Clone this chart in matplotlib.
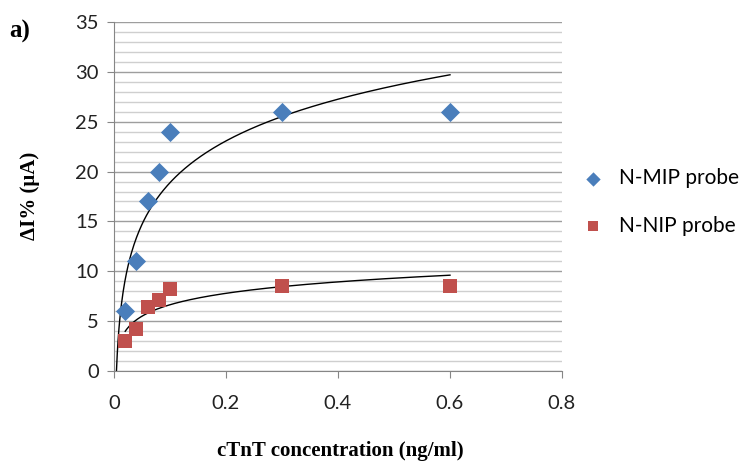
import numpy as np
import matplotlib

matplotlib.use("Agg")
import matplotlib.pyplot as plt
from matplotlib.ticker import MultipleLocator

# cTnT concentration (ng/ml)
conc = [0.02, 0.04, 0.06, 0.08, 0.1, 0.3, 0.6]
mip = [6, 11, 17, 20, 24, 26, 26]
nip = [3, 4.2, 6.4, 7.1, 8.2, 8.5, 8.5]

BLUE = "#4a7ebb"
RED = "#c0504d"
TICK_FONT = "Lato"
LABEL_FONT = "Liberation Serif"


def log_fit(x, y):
    a, b = np.polyfit(np.log(x), y, 1)
    return a, b


fig = plt.figure(figsize=(7.52, 4.61), dpi=100)
ax = fig.add_axes([114 / 752, 1 - 371 / 461, 448 / 752, 349 / 461])

ax.set_xlim(0, 0.8)
ax.set_ylim(0, 35)
ax.xaxis.set_major_locator(MultipleLocator(0.2))
ax.yaxis.set_major_locator(MultipleLocator(5))
ax.yaxis.set_minor_locator(MultipleLocator(1))
ax.grid(axis="y", which="minor", color="#cfcfcf", linewidth=1.0)
ax.grid(axis="y", which="major", color="#9e9e9e", linewidth=1.0)
ax.set_axisbelow(True)
for side in ("top", "right"):
    ax.spines[side].set_visible(False)
for side in ("left", "bottom"):
    ax.spines[side].set_color("#868686")
ax.tick_params(axis="both", which="major", direction="out", length=5,
               color="#868686", labelsize=14.5)
ax.tick_params(axis="y", which="minor", length=0)
ax.tick_params(axis="x", pad=12)
ax.tick_params(axis="y", pad=6)
ax.set_xticks([0, 0.2, 0.4, 0.6, 0.8])
ax.set_xticklabels(["0", "0.2", "0.4", "0.6", "0.8"])
for lbl in ax.get_xticklabels() + ax.get_yticklabels():
    lbl.set_fontfamily(TICK_FONT)
    lbl.set_color("#222222")

# logarithmic trendlines fitted to each series
a, b = log_fit(conc, mip)
x_start = np.exp(-b / a)
xs = np.linspace(x_start, max(conc), 400)
ax.plot(xs, a * np.log(xs) + b, color="black", linewidth=1.0, zorder=2)

a, b = log_fit(conc, nip)
xs = np.linspace(min(conc), max(conc), 400)
ax.plot(xs, a * np.log(xs) + b, color="black", linewidth=1.0, zorder=2)

ax.scatter(conc, mip, marker="D", s=95, color=BLUE, zorder=3,
           label="N-MIP probe", linewidths=0)
ax.scatter(conc, nip, marker="s", s=110, color=RED, zorder=3,
           label="N-NIP probe", linewidths=0)

fig.text(340 / 752, 1 - 451 / 461, "cTnT concentration (ng/ml)",
         fontfamily=LABEL_FONT, fontweight="bold", fontsize=15,
         ha="center", va="center")
fig.text(30 / 752, 1 - 196 / 461, "ΔI% (μA)", fontfamily=LABEL_FONT,
         fontweight="bold", fontsize=15, rotation=90,
         ha="center", va="center")
fig.text(9 / 752, 1 - 31 / 461, "a)", fontfamily=LABEL_FONT,
         fontweight="bold", fontsize=18, va="center", ha="left")

leg = fig.legend(loc="center left", bbox_to_anchor=(583 / 752, 1 - 202 / 461),
                 frameon=False, borderpad=0, borderaxespad=0,
                 handlelength=1.0, handletextpad=0.75, labelspacing=1.3,
                 markerscale=0.75, prop={"family": TICK_FONT, "size": 15})

fig.savefig("out.png", dpi=100)
